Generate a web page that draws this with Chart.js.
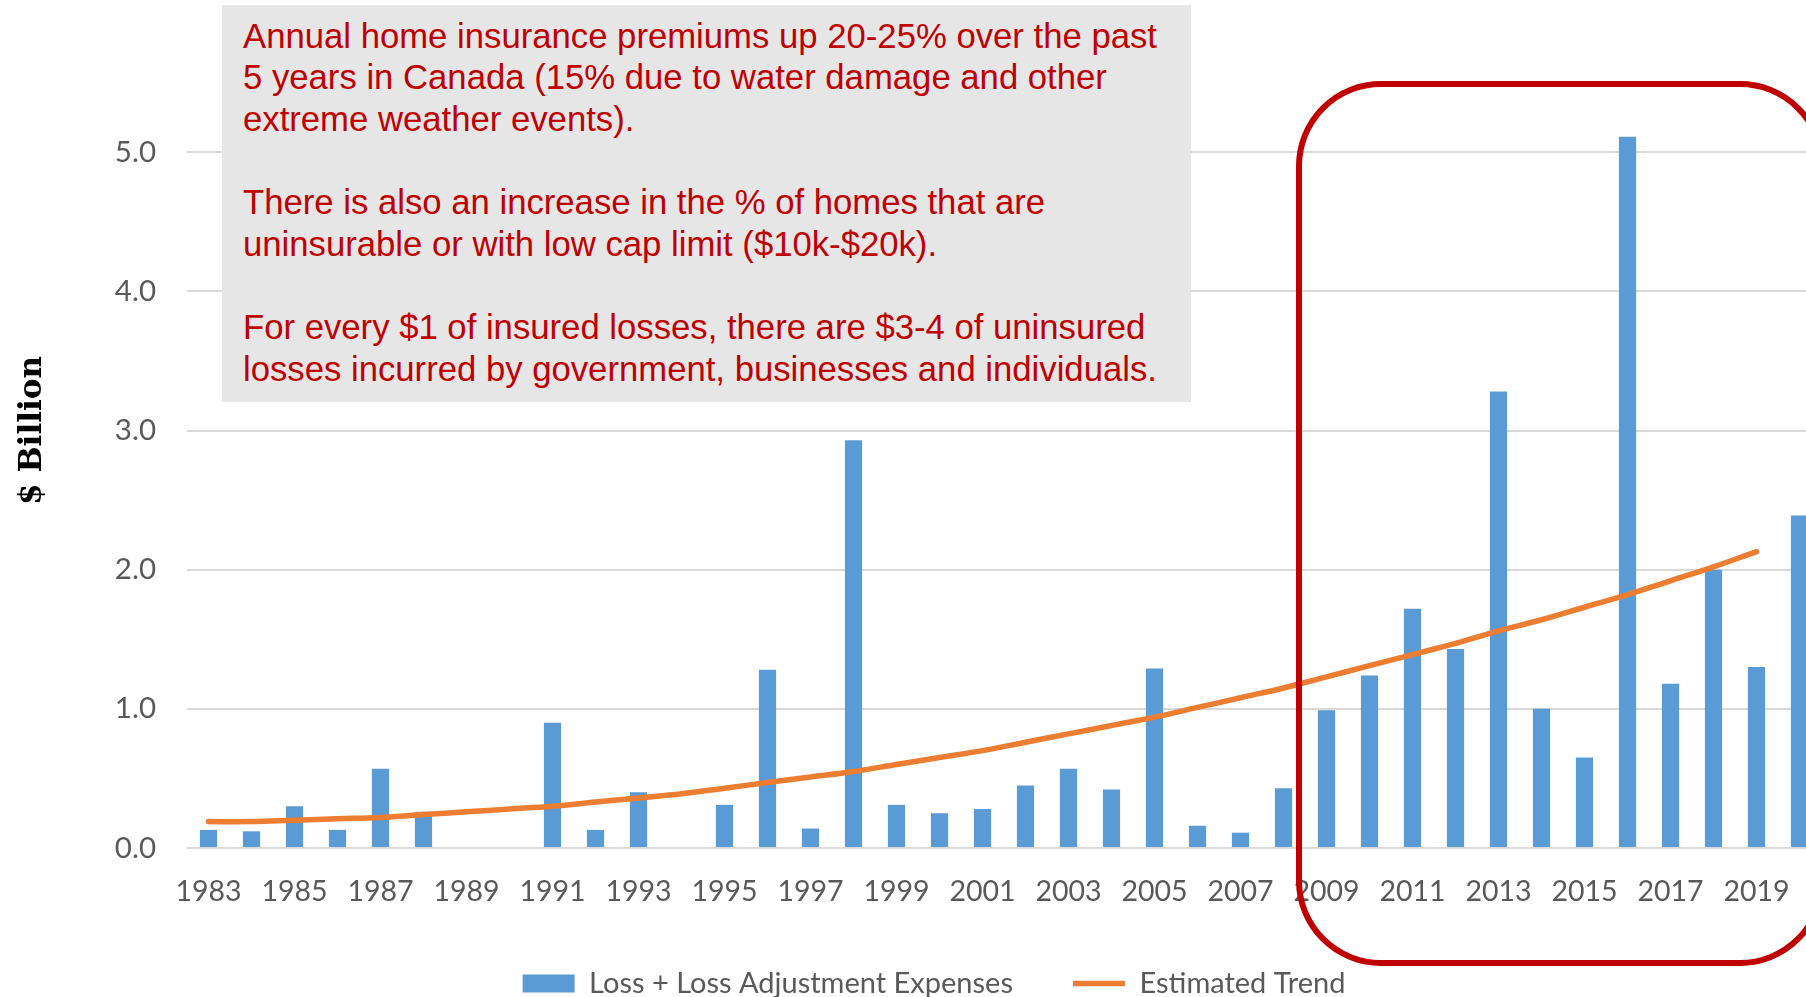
<!DOCTYPE html>
<html>
<head>
<meta charset="utf-8">
<title>Insured losses</title>
<script src="https://cdn.jsdelivr.net/npm/chart.js@4.4.0/dist/chart.umd.min.js"></script>
<style>
  html, body { margin: 0; padding: 0; background: #fff; overflow: hidden; }
  #wrap { position: relative; width: 1806px; height: 997px; overflow: hidden; }
  #chart { position: absolute; left: 0; top: 0; }
  .note {
    position: absolute; left: 222px; top: 5px; width: 969px; height: 397px;
    box-sizing: border-box; background: #e6e6e6; padding: 10.5px 0 0 21px;
    font-family: 'Liberation Sans', Arial, sans-serif; font-size: 34.7px;
    line-height: 41.7px; color: #c00000; white-space: pre;
  }
  .focus {
    position: absolute; left: 1296px; top: 81px; width: 529px; height: 885px;
    box-sizing: border-box; border: 6px solid #c00000; border-radius: 85px;
  }
</style>
</head>
<body>
<div id="wrap">
  <canvas id="chart" width="1868" height="1008"></canvas>
  <div class="note">Annual home insurance premiums up 20-25% over the past
5 years in Canada (15% due to water damage and other
extreme weather events).

There is also an increase in the % of homes that are
uninsurable or with low cap limit ($10k-$20k).

For every $1 of insured losses, there are $3-4 of uninsured
losses incurred by government, businesses and individuals.</div>
  <div class="focus"></div>
</div>
<script>
// Data ($ billion)
const years = ['1983', '1984', '1985', '1986', '1987', '1988', '1989', '1990', '1991', '1992',
               '1993', '1994', '1995', '1996', '1997', '1998', '1999', '2000', '2001', '2002',
               '2003', '2004', '2005', '2006', '2007', '2008', '2009', '2010', '2011', '2012',
               '2013', '2014', '2015', '2016', '2017', '2018', '2019', '2020'];

const losses = [0.13, 0.12, 0.30, 0.13, 0.57, 0.26, null, null, 0.90, 0.13,
                0.40, null, 0.31, 1.28, 0.14, 2.93, 0.31, 0.25, 0.28, 0.45,
                0.57, 0.42, 1.29, 0.16, 0.11, 0.43, 0.99, 1.24, 1.72, 1.43,
                3.28, 1.00, 0.65, 5.11, 1.18, 2.00, 1.30, 2.39];

const trend = [0.19, 0.19, 0.20, 0.21, 0.22, 0.24, 0.26, 0.28, 0.30, 0.33,
               0.36, 0.39, 0.43, 0.47, 0.51, 0.55, 0.60, 0.65, 0.70, 0.76,
               0.82, 0.88, 0.94, 1.01, 1.08, 1.15, 1.23, 1.31, 1.39, 1.47,
               1.56, 1.64, 1.73, 1.82, 1.92, 2.02, 2.13, null];

const yTicks = [0, 1, 2, 3, 4, 5];

const axisGrey = '#595959';
Chart.defaults.font.family = 'Lato, "Open Sans", sans-serif';

const ctx = document.getElementById('chart');

new Chart(ctx, {
    type: 'bar',
    data: {
        labels: years,
        datasets: [{
            type: 'bar',
            label: 'Loss + Loss Adjustment Expenses',
            data: losses,
            backgroundColor: '#5b9bd5',
            barPercentage: 0.4,
            categoryPercentage: 1,
            order: 1
        }, {
            type: 'line',
            label: 'Estimated Trend',
            data: trend,
            borderColor: '#ed7d31',
            backgroundColor: '#ed7d31',
            borderWidth: 5.5,
            borderCapStyle: 'round',
            pointRadius: 0,
            tension: 0.4,
            order: 0
        }]
    },
    options: {
        responsive: false,
        animation: false,
        layout: { padding: { top: 13, left: 0, right: 0, bottom: 0 } },
        plugins: {
            tooltip: { enabled: false },
            legend: {
                position: 'bottom',
                labels: {
                    usePointStyle: true,
                    pointStyleWidth: 52,
                    boxHeight: 18,
                    padding: 60,
                    color: axisGrey,
                    font: { size: 29 },
                    sort: (a, b) => a.datasetIndex - b.datasetIndex,
                    generateLabels: function(chart) {
                        const items = Chart.defaults.plugins.legend.labels.generateLabels(chart);
                        items.forEach(item => {
                            item.pointStyle = item.datasetIndex === 0 ? 'rect' : 'line';
                        });
                        return items;
                    }
                }
            }
        },
        scales: {
            x: {
                grid: { display: false, drawTicks: false },
                border: { display: false },
                ticks: {
                    autoSkip: false,
                    maxRotation: 0,
                    minRotation: 0,
                    padding: 27,
                    color: axisGrey,
                    font: { size: 28.5 },
                    callback: function(value, index) {
                        return index % 2 === 0 ? years[index] : '';
                    }
                },
                afterFit: function(scale) {
                    scale.height = 61;
                    scale.paddingLeft = 0;
                    scale.paddingRight = 0;
                }
            },
            y: {
                min: 0,
                max: 6,
                grid: { color: '#d9d9d9', lineWidth: 2, drawTicks: false },
                border: { display: false },
                ticks: {
                    padding: 31,
                    color: axisGrey,
                    font: { size: 29.5 },
                    callback: value => value.toFixed(1)
                },
                afterBuildTicks: function(scale) {
                    scale.ticks = yTicks.map(v => ({ value: v }));
                },
                title: {
                    display: true,
                    text: '$ Billion',
                    color: '#000',
                    font: { family: '"DejaVu Serif", serif', size: 31, weight: 'bold' },
                    padding: { top: 14, bottom: 0 }
                },
                afterFit: function(scale) {
                    scale.width = 187;
                    scale.paddingTop = 0;
                    scale.paddingBottom = 0;
                }
            },
            // empty right-hand axis, only reserves room so the legend centres like the original
            y2: {
                position: 'right',
                grid: { display: false, drawOnChartArea: false, drawTicks: false },
                border: { display: false },
                ticks: { display: false },
                afterFit: function(scale) {
                    scale.width = 47;
                    scale.paddingTop = 0;
                    scale.paddingBottom = 0;
                }
            }
        }
    }
});
</script>
</body>
</html>
